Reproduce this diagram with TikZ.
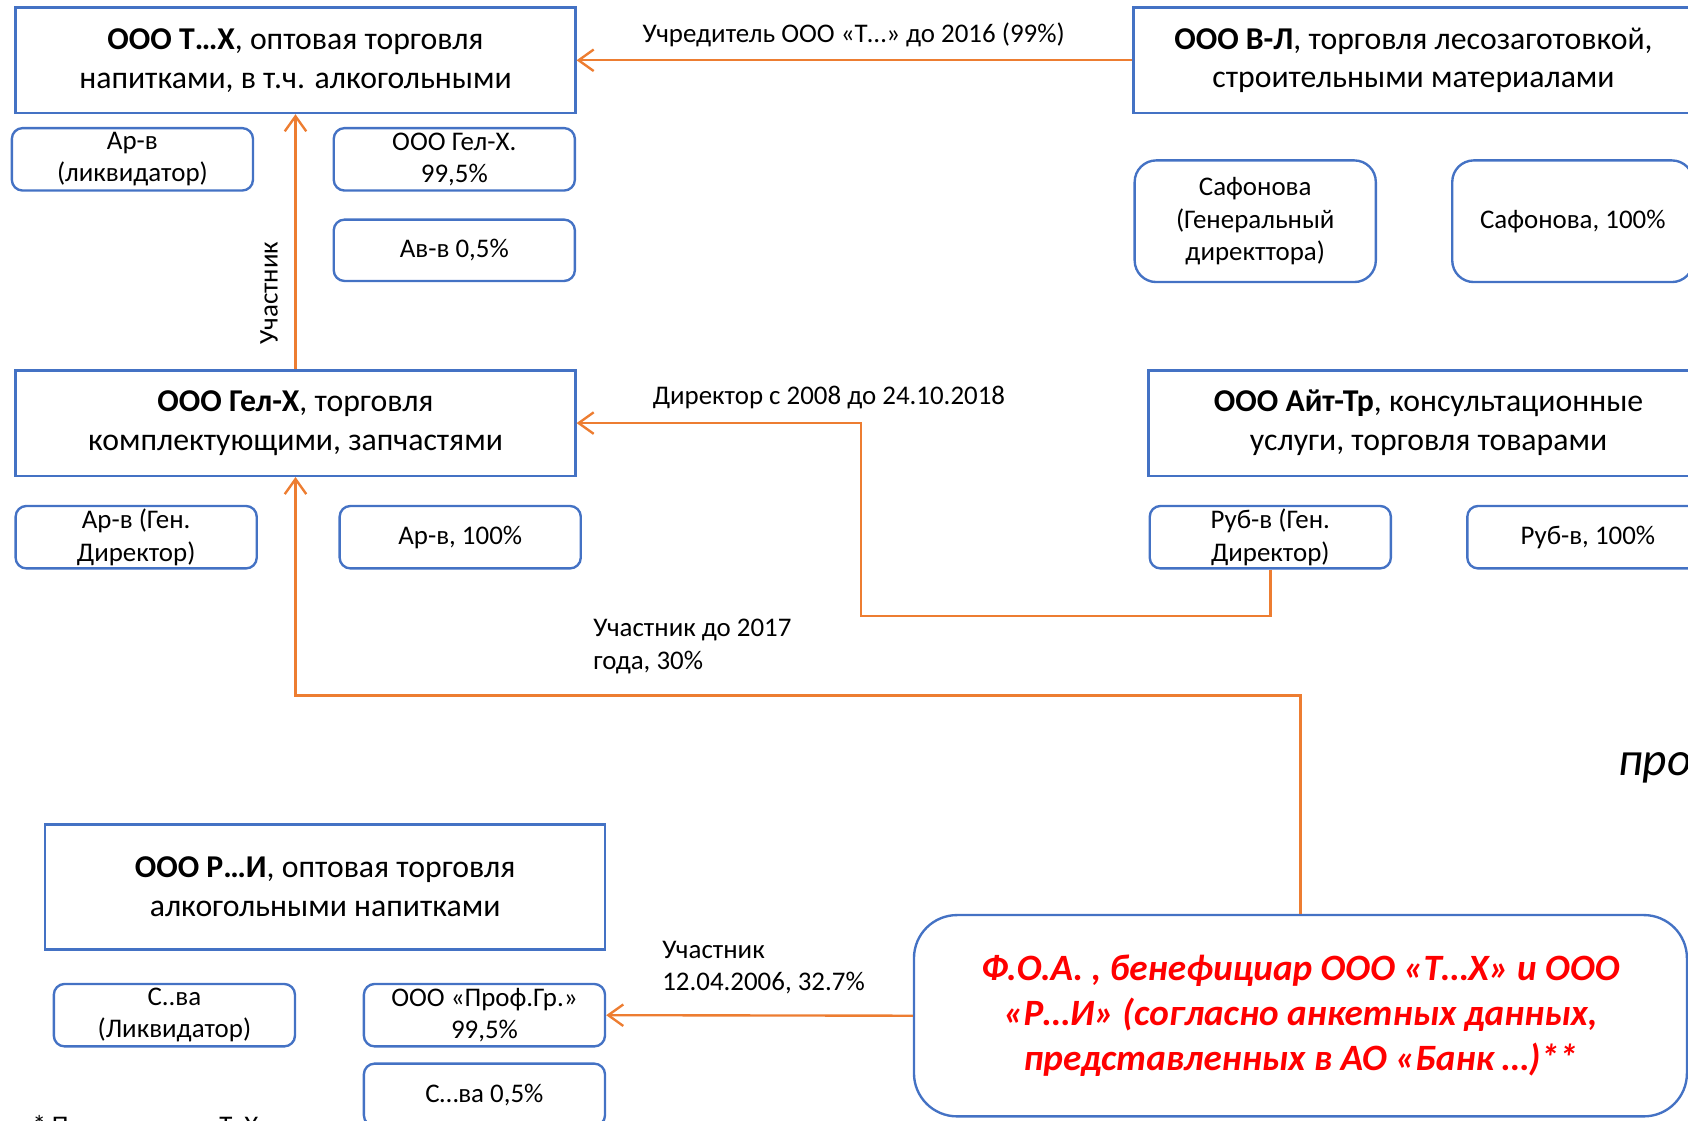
\documentclass[tikz,border=0pt]{standalone}
\usepackage{fontspec}
\setmainfont{Carlito}
\usetikzlibrary{arrows.meta}
\definecolor{boxblue}{HTML}{4472C4}
\definecolor{linkorange}{HTML}{ED7D31}
\definecolor{foared}{HTML}{FF0000}

\begin{document}
\begin{tikzpicture}[x=1pt,y=-1pt,
    firm/.style={draw=boxblue, line width=2.2pt, inner sep=0pt, align=center,
      minimum width=520pt, minimum height=98pt, font=\fontsize{29.5}{36}\selectfont},
    person/.style={draw=boxblue, line width=2.2pt, rounded corners=10pt, inner sep=0pt,
      align=center, minimum width=224pt, minimum height=58pt, font=\fontsize{25}{30}\selectfont},
    link/.style={draw=linkorange, line width=2.2pt, -{Straight Barb[length=14pt,width=20pt]}},
    tag/.style={inner sep=0pt, font=\fontsize{25}{30}\selectfont}]

                  % Page frame
                  \useasboundingbox (0,0) rectangle (1568,1041);
                  \clip (0,0) rectangle (1568,1041);

                  % Firms
                  \node[firm] (tx) at (274.5,56) {\textbf{ООО Т…Х}, оптовая торговля\\напитками, в т.ч. алкогольными};
                  \node[firm] (vl) at (1313,56) {\textbf{ООО В-Л}, торговля лесозаготовкой,\\строительными материалами};
                  \node[firm] (gel) at (274.5,393) {\textbf{ООО Гел-Х}, торговля\\комплектующими, запчастями};
                  \node[firm] (ait) at (1327,393) {\textbf{ООО Айт-Тр}, консультационные\\услуги, торговля товарами};
                  \node[firm, minimum height=116pt] (ri) at (302,824) {\textbf{ООО Р…И}, оптовая торговля\\алкогольными напитками};

                  % Directors and owners
                  \node[person] (arliq) at (123,148) {Ар-в\\(ликвидатор)};
                  \node[person] (gelshare) at (422,148) {ООО Гел-Х.\\99,5\%};
                  \node[person, minimum height=57pt] (avshare) at (422,232.5) {Ав-в 0,5\%};
                  \node[person, minimum height=113pt, rounded corners=20pt] (safdir) at (1166,205.5) {Сафонова\\(Генеральный\\директтора)};
                  \node[person, minimum height=113pt, rounded corners=20pt] (safshare) at (1461,205.5) {Сафонова, 100\%};
                  \node[person] (ardir) at (126.5,499) {Ар-в (Ген.\\Директор)};
                  \node[person] (arshare) at (427.5,499) {Ар-в, 100\%};
                  \node[person] (rubdir) at (1180,499) {Руб-в (Ген.\\Директор)};
                  \node[person] (rubshare) at (1475,499) {Руб-в, 100\%};
                  \node[person] (svliq) at (162,943) {С..ва\\(Ликвидатор)};
                  \node[person] (prof) at (450,943) {ООО «Проф.Гр.»\\99,5\%};
                  \node[person] (svshare) at (450,1017) {С…ва 0,5\%};

                  % Beneficiary
                  \node[draw=boxblue, line width=2.2pt, rounded corners=40pt, inner sep=0pt, align=center,
                    minimum width=718pt, minimum height=187pt, text=foared,
                    font=\fontsize{34.5}{42}\selectfont\bfseries\itshape] (foa) at (1208,943.5)
                    {Ф.О.А. , бенефициар ООО «Т…Х» и ООО\\«Р…И» (согласно анкетных данных,\\представленных в АО «Банк …)**};

                  % Links
                  \coordinate (bendA) at (800,572);
                  \coordinate (bendB) at (274.5,646);
                  \draw[link] (vl) -- (tx);
                  \draw[link] (gel) -- (tx);
                  \draw[link] (rubdir.south) |- (bendA) |- (gel.east);
                  \draw[link] (foa.north) |- (bendB) -- (gel.south);
                  \draw[link] (foa.west) -- (prof.east);

                  % Link labels
                  \node[tag] (lblfounder) at (793,32) {Учредитель ООО «Т…» до 2016 (99\%)};
                  \node[tag, rotate=90] (lblmember) at (250,272) {Участник};
                  \node[tag] (lbldirector) at (770,369) {Директор с 2008 до 24.10.2018};
                  \node[tag, anchor=west, align=left] (lbluntil) at (551,600.5) {Участник до 2017\\года,  30\%};
                  \node[tag, anchor=west, align=left] (lblprof) at (615,898.5) {Участник\\12.04.2006, 32.7\%};

                  % Cut-off text
                  \node[anchor=base west, inner sep=0pt, font=\fontsize{44}{50}\selectfont\itshape] (pro) at (1503,720) {про};
                  \node[anchor=base west, inner sep=0pt, font=\fontsize{25}{30}\selectfont] (note) at (30,1054) {* П\hspace{140pt}Т..Х};

              \end{tikzpicture}
\end{document}
